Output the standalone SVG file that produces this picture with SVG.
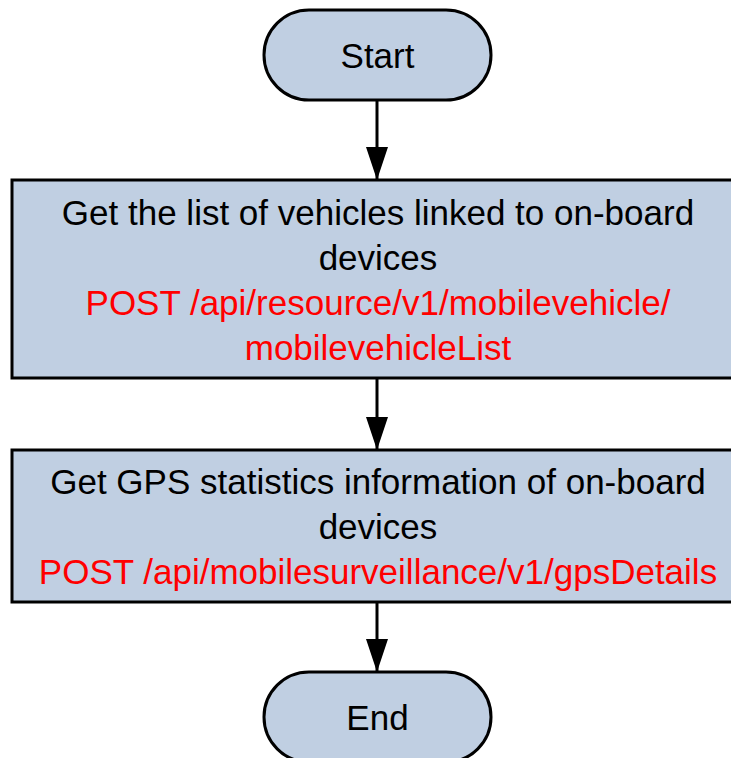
<svg xmlns="http://www.w3.org/2000/svg" width="731" height="758" viewBox="0 0 731 758">
<style>
.shape{fill:#C0CFE2;stroke:#000;stroke-width:3}
.t{font-family:"Liberation Sans",Arial,sans-serif;font-size:35px;text-anchor:middle;dominant-baseline:central;fill:#000}
.r{fill:#FF0000}
.conn{stroke:#000;stroke-width:3;fill:none}
</style>
<defs>
<marker id="ah" markerUnits="userSpaceOnUse" markerWidth="33" markerHeight="22" refX="32" refY="11" orient="auto" viewBox="0 0 33 22">
<path d="M0,0 L33,11 L0,22 Z" fill="#000"/>
</marker>
</defs>
<rect width="731" height="758" fill="#fff"/>
<g id="connectors">
<line class="conn" x1="377" y1="100" x2="377" y2="179" marker-end="url(#ah)"/>
<line class="conn" x1="377" y1="378" x2="377" y2="449" marker-end="url(#ah)"/>
<line class="conn" x1="377" y1="602" x2="377" y2="671" marker-end="url(#ah)"/>
</g>
<g id="start">
<rect class="shape" x="264" y="10" width="227" height="90" rx="45" ry="45"/>
<text class="t" x="377.5" y="55">Start</text>
</g>
<g id="step1">
<rect class="shape" x="12" y="180" width="735" height="198"/>
<text class="t" x="378" y="212">Get the list of vehicles linked to on-board</text>
<text class="t" x="378" y="257">devices</text>
<text class="t r" x="378" y="302">POST /api/resource/v1/mobilevehicle/</text>
<text class="t r" x="378" y="347">mobilevehicleList</text>
</g>
<g id="step2">
<rect class="shape" x="12" y="450" width="735" height="152"/>
<text class="t" x="378" y="481">Get GPS statistics information of on-board</text>
<text class="t" x="378" y="526">devices</text>
<text class="t r" x="378" y="571">POST /api/mobilesurveillance/v1/gpsDetails</text>
</g>
<g id="end">
<rect class="shape" x="264" y="672" width="227" height="90" rx="45" ry="45"/>
<text class="t" x="377.5" y="717">End</text>
</g>
</svg>
